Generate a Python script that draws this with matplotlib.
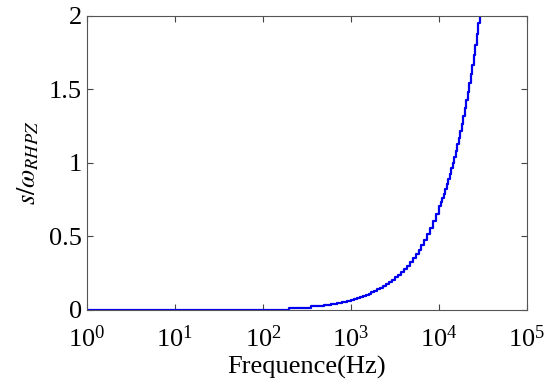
import numpy as np
import matplotlib.pyplot as plt

plt.rcParams['font.family'] = 'Liberation Serif'
plt.rcParams['mathtext.fontset'] = 'stix'

# values (fine staircase curve)
freq = [1, 200, 350, 500, 600, 700, 800, 900,
        1000, 1080, 1170, 1260, 1360, 1470, 1590, 1710, 1850, 2000,
        2160, 2330, 2520, 2720, 2940, 3170, 3430, 3700, 4000, 4320,
        4660, 5030, 5440, 5870, 6340, 6850, 7400, 7990, 8630, 9320,
        10070, 10470, 10890, 11330, 11780, 12250, 12740, 13250, 13780,
        14330, 14900, 15500, 16120, 16760, 17430, 18130, 18850, 19610,
        20390, 21210, 22050, 22940, 23850, 24810, 25800, 26830, 27900,
        29020, 30180]
ratio = [0, 0.014, 0.024, 0.035, 0.042, 0.049, 0.056, 0.063,
         0.070, 0.076, 0.082, 0.088, 0.095, 0.103, 0.111, 0.120, 0.129, 0.140,
         0.151, 0.163, 0.176, 0.190, 0.206, 0.222, 0.240, 0.259, 0.280, 0.302,
         0.326, 0.352, 0.380, 0.410, 0.443, 0.479, 0.517, 0.559, 0.603, 0.652,
         0.704, 0.732, 0.762, 0.792, 0.824, 0.857, 0.891, 0.927, 0.964,
         1.002, 1.042, 1.084, 1.127, 1.172, 1.219, 1.268, 1.318, 1.371,
         1.426, 1.483, 1.542, 1.604, 1.668, 1.735, 1.804, 1.876, 1.951,
         2.029, 2.110]

xticks = [1, 10, 100, 1000, 10000, 100000]
yticks = [0, 0.5, 1, 1.5, 2]

fig = plt.figure(figsize=(5.5, 3.87), dpi=100)
ax = fig.add_axes([0.158, 0.199, 0.80, 0.76])

ax.plot(freq, ratio, color='#0000ee', lw=1.6, drawstyle='steps-post')

ax.set_xscale('log')
ax.set_xlim(1, 1e5)
ax.set_ylim(0, 2)
ax.set_xticks(xticks)
ax.set_yticks(yticks)
ax.set_yticklabels(['0', '0.5', '1', '1.5', '2'])

ax.tick_params(which='both', direction='in', top=True, right=True,
               labelsize=19, colors='#444444', labelcolor='black')
ax.tick_params(which='major', length=4)
ax.tick_params(which='minor', length=2)
ax.tick_params(axis='x', pad=11)
for sp in ax.spines.values():
    sp.set_color('#555555')

ax.set_xlabel('Frequence(Hz)', fontsize=19, labelpad=3)
ax.set_ylabel(r'$s/\omega_{RHPZ}$', fontsize=19, labelpad=6)

fig.savefig('out.png', dpi=100)
